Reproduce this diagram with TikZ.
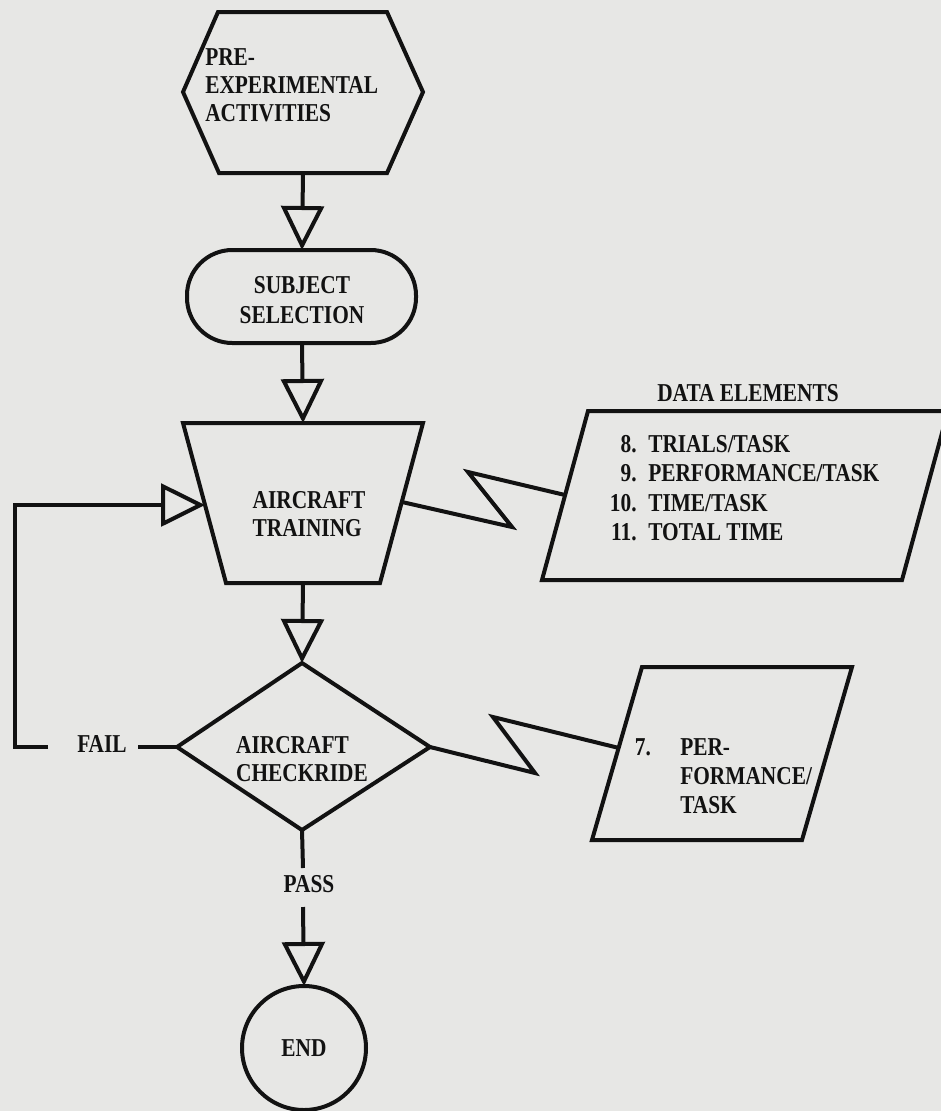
\documentclass[tikz,border=0pt]{standalone}
\usepackage{fontspec}
\setmainfont{Liberation Serif}
\newfontfamily\typefont[FakeStretch=0.83,UprightFont={* Bold},BoldFont={* Bold}]{Liberation Serif}
\usetikzlibrary{arrows.meta}
\definecolor{paper}{RGB}{231,231,229}
\definecolor{ink}{RGB}{18,18,18}
\begin{document}
\begin{tikzpicture}[x=0.75pt,y=-0.75pt,
  lbl/.style={text=ink,font=\typefont\fontsize{19.3}{21}\selectfont,inner sep=0pt,align=center},
  shp/.style={draw=ink,line width=3pt,line join=miter},
  flow/.style={draw=ink,line width=3pt,line join=miter,-{Triangle[open,length=33pt,width=32pt]}}]
\useasboundingbox (0,0) rectangle (941,1111);
\fill[paper] (0,0) rectangle (941,1111);
\clip (0,0) rectangle (941,1111);

% hexagon
\draw[shp] (218,12) -- (387,12) -- (423,92) -- (387,173) -- (219,173) -- (183,92) -- cycle;
\coordinate (hexS) at (303,173);
\node[lbl,align=left,anchor=west] (pre) at (205,85) {PRE-\\EXPERIMENTAL\\ACTIVITIES};

% stadium
\draw[shp,rounded corners=34pt] (187,250) rectangle (416,343);
\coordinate (subjN) at (302,250);
\coordinate (subjS) at (302,343);
\node[lbl,font=\typefont\fontsize{19.3}{22.5}\selectfont] (subj) at (302,300) {SUBJECT\\SELECTION};

% trapezoid
\draw[shp] (183,423) -- (423,423) -- (380,583) -- (226,583) -- cycle;
\coordinate (trN) at (303,423);
\coordinate (trS) at (303,583);
\coordinate (trW) at (205,505);
\coordinate (trE) at (402,502);
\node[lbl,align=left] (train) at (309,514) {AIRCRAFT\\TRAINING};

% data elements box
\draw[shp] (588,411) -- (948,411) -- (902,580) -- (542,580) -- cycle;
\coordinate (dataW) at (565,495);
\node[lbl] (datahead) at (748,393) {DATA ELEMENTS};
\node[lbl,align=left,anchor=west,font=\typefont\fontsize{19.3}{22}\selectfont] (datalist) at (648,488)
  {\llap{8.\hspace{0.45em}}TRIALS/TASK\\\llap{9.\hspace{0.45em}}PERFORMANCE/TASK\\\llap{10.\hspace{0.45em}}TIME/TASK\\\llap{11.\hspace{0.45em}}TOTAL TIME};

% diamond
\draw[shp] (302,663) -- (430,747) -- (302,830) -- (177,747) -- cycle;
\coordinate (dN) at (302,663);
\coordinate (dE) at (430,747);
\coordinate (dS) at (302,830);
\coordinate (dW) at (177,747);
\node[lbl,align=left] (check) at (302,759) {AIRCRAFT\\CHECKRIDE};

% performance box
\draw[shp] (642,667) -- (852,667) -- (802,840) -- (592,840) -- cycle;
\coordinate (perfW) at (619,748);
\node[lbl,align=left,anchor=west,font=\typefont\fontsize{19.3}{21.75}\selectfont] (perf) at (680,776)
  {\llap{7.\hspace{22pt}}PER-\\FORMANCE/\\TASK};

% fail / pass
\node[lbl] (fail) at (102,744) {FAIL};
\coordinate (failE) at (138,747);
\coordinate (failW) at (48,747);
\node[lbl] (pass) at (309,884) {PASS};
\coordinate (passN) at (303,868);
\coordinate (passS) at (303,907);

% end circle
\draw[shp] (304,1048) circle[radius=62];
\coordinate (endN) at (304,986);
\node[lbl] (end) at (304,1048) {END};

% connectors
\draw[flow] (hexS) -- (subjN);
\draw[flow] (subjS) -- (trN);
\draw[flow] (trS) -- (dN);
\draw[shp] (dS) -- (passN);
\draw[flow] (passS) -- (endN);
\draw[shp] (dW) -- (failE);
\draw[flow] (failW) -- (15,747) -- (15,505) -- (trW);
\draw[shp] (trE) -- (512,527) -- (468,472) -- (dataW);
\draw[shp] (dE) -- (535,773) -- (493,717) -- (perfW);
\end{tikzpicture}
\end{document}
